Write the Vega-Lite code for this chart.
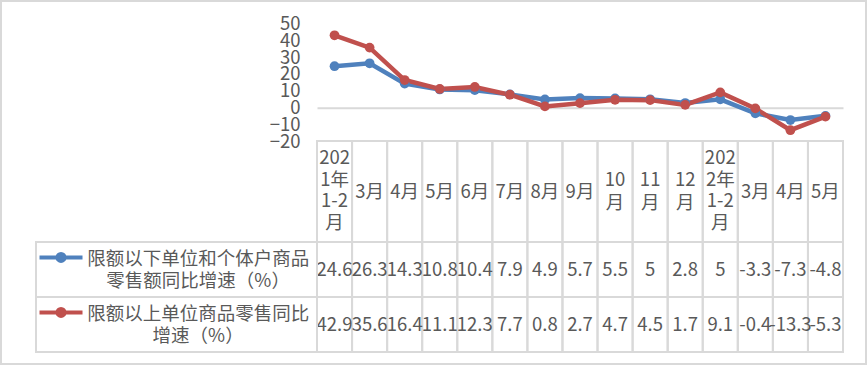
{
  "$schema": "https://vega.github.io/schema/vega-lite/v6.json",
  "width": 865,
  "height": 363,
  "autosize": "none",
  "padding": 1,
  "background": "#ffffff",
  "config": {
    "view": {"stroke": "#d9d9d9", "strokeWidth": 2},
    "font": "Noto Sans CJK SC",
    "text": {"font": "Noto Sans CJK SC", "fontSize": 18.5, "color": "#595959"},
    "axis": {"labelFont": "Noto Sans CJK SC"}
  },
  "data": {
    "values": [
      {"period": "2021-01", "label": "2021年1-2月", "series": "限额以下单位和个体户商品零售额同比增速（%）", "value": 24.6},
      {"period": "2021-03", "label": "3月", "series": "限额以下单位和个体户商品零售额同比增速（%）", "value": 26.3},
      {"period": "2021-04", "label": "4月", "series": "限额以下单位和个体户商品零售额同比增速（%）", "value": 14.3},
      {"period": "2021-05", "label": "5月", "series": "限额以下单位和个体户商品零售额同比增速（%）", "value": 10.8},
      {"period": "2021-06", "label": "6月", "series": "限额以下单位和个体户商品零售额同比增速（%）", "value": 10.4},
      {"period": "2021-07", "label": "7月", "series": "限额以下单位和个体户商品零售额同比增速（%）", "value": 7.9},
      {"period": "2021-08", "label": "8月", "series": "限额以下单位和个体户商品零售额同比增速（%）", "value": 4.9},
      {"period": "2021-09", "label": "9月", "series": "限额以下单位和个体户商品零售额同比增速（%）", "value": 5.7},
      {"period": "2021-10", "label": "10月", "series": "限额以下单位和个体户商品零售额同比增速（%）", "value": 5.5},
      {"period": "2021-11", "label": "11月", "series": "限额以下单位和个体户商品零售额同比增速（%）", "value": 5},
      {"period": "2021-12", "label": "12月", "series": "限额以下单位和个体户商品零售额同比增速（%）", "value": 2.8},
      {"period": "2022-01", "label": "2022年1-2月", "series": "限额以下单位和个体户商品零售额同比增速（%）", "value": 5},
      {"period": "2022-03", "label": "3月", "series": "限额以下单位和个体户商品零售额同比增速（%）", "value": -3.3},
      {"period": "2022-04", "label": "4月", "series": "限额以下单位和个体户商品零售额同比增速（%）", "value": -7.3},
      {"period": "2022-05", "label": "5月", "series": "限额以下单位和个体户商品零售额同比增速（%）", "value": -4.8},
      {"period": "2021-01", "label": "2021年1-2月", "series": "限额以上单位商品零售同比增速（%）", "value": 42.9},
      {"period": "2021-03", "label": "3月", "series": "限额以上单位商品零售同比增速（%）", "value": 35.6},
      {"period": "2021-04", "label": "4月", "series": "限额以上单位商品零售同比增速（%）", "value": 16.4},
      {"period": "2021-05", "label": "5月", "series": "限额以上单位商品零售同比增速（%）", "value": 11.1},
      {"period": "2021-06", "label": "6月", "series": "限额以上单位商品零售同比增速（%）", "value": 12.3},
      {"period": "2021-07", "label": "7月", "series": "限额以上单位商品零售同比增速（%）", "value": 7.7},
      {"period": "2021-08", "label": "8月", "series": "限额以上单位商品零售同比增速（%）", "value": 0.8},
      {"period": "2021-09", "label": "9月", "series": "限额以上单位商品零售同比增速（%）", "value": 2.7},
      {"period": "2021-10", "label": "10月", "series": "限额以上单位商品零售同比增速（%）", "value": 4.7},
      {"period": "2021-11", "label": "11月", "series": "限额以上单位商品零售同比增速（%）", "value": 4.5},
      {"period": "2021-12", "label": "12月", "series": "限额以上单位商品零售同比增速（%）", "value": 1.7},
      {"period": "2022-01", "label": "2022年1-2月", "series": "限额以上单位商品零售同比增速（%）", "value": 9.1},
      {"period": "2022-03", "label": "3月", "series": "限额以上单位商品零售同比增速（%）", "value": -0.4},
      {"period": "2022-04", "label": "4月", "series": "限额以上单位商品零售同比增速（%）", "value": -13.3},
      {"period": "2022-05", "label": "5月", "series": "限额以上单位商品零售同比增速（%）", "value": -5.3}
    ]
  },
  "layer": [
    {
      "encoding": {
        "x": {
          "field": "period", "type": "ordinal", "sort": null,
          "scale": {"type": "point", "range": [316, 842], "padding": 0.5},
          "axis": {"orient": "bottom", "offset": -256.3, "labels": false, "ticks": false, "grid": false, "title": null, "domainColor": "#d9d9d9", "domainWidth": 2}
        },
        "y": {
          "field": "value", "type": "quantitative",
          "scale": {"domain": [-20, 50], "range": [140.5, 22.3], "nice": false, "zero": false},
          "axis": {"orient": "left", "offset": -299, "values": [-20, -10, 0, 10, 20, 30, 40, 50], "domain": false, "ticks": false, "grid": false, "title": null, "labelPadding": 0, "labelFontSize": 18.5, "labelColor": "#595959", "labelOverlap": false, "labelBaseline": "middle", "labelAlign": "right"}
        },
        "color": {
          "field": "series", "type": "nominal",
          "scale": {"domain": ["限额以下单位和个体户商品零售额同比增速（%）", "限额以上单位商品零售同比增速（%）"], "range": ["#4F81BD", "#C0504D"]},
          "legend": null
        }
      },
      "layer": [
        {"mark": {"type": "line", "strokeWidth": 4.5}},
        {"mark": {"type": "point", "filled": true, "size": 95, "opacity": 1}}
      ]
    },
    {
      "transform": [
        {"filter": "datum.series == '限额以下单位和个体户商品零售额同比增速（%）'"},
        {"calculate": "length(datum.label) > 4 ? slice(datum.label,0,3)+'\\n'+slice(datum.label,3,5)+'\\n'+slice(datum.label,5,8)+'\\n'+slice(datum.label,8) : length(datum.label) == 3 ? slice(datum.label,0,2)+'\\n'+slice(datum.label,2) : datum.label", "as": "hdr"}
      ],
      "encoding": {
        "x": {"field": "period", "type": "ordinal", "sort": null, "scale": {"type": "band", "range": [316, 842], "paddingInner": 0, "paddingOuter": 0}, "axis": null},
        "y": {"field": "series", "type": "nominal", "scale": {"type": "band", "range": [140, 241], "paddingInner": 0, "paddingOuter": 0}, "axis": null}
      },
      "layer": [
        {"mark": {"type": "rect", "fill": "transparent", "stroke": "#d9d9d9", "strokeWidth": 2}},
        {
          "transform": [{"filter": "length(datum.label) > 4"}],
          "mark": {"type": "text", "lineBreak": "\n", "lineHeight": 21.7, "baseline": "middle", "align": "center", "fontSize": 18.5, "color": "#595959", "dy": -33.5},
          "encoding": {"text": {"field": "hdr", "type": "nominal"}}
        },
        {
          "transform": [{"filter": "length(datum.label) == 3"}],
          "mark": {"type": "text", "lineBreak": "\n", "lineHeight": 23, "baseline": "middle", "align": "center", "fontSize": 18.5, "color": "#595959", "dy": -11.5},
          "encoding": {"text": {"field": "hdr", "type": "nominal"}}
        },
        {
          "transform": [{"filter": "length(datum.label) == 2"}],
          "mark": {"type": "text", "baseline": "middle", "align": "center", "fontSize": 18.5, "color": "#595959"},
          "encoding": {"text": {"field": "hdr", "type": "nominal"}}
        }
      ]
    },
    {
      "encoding": {
        "x": {"field": "period", "type": "ordinal", "sort": null, "scale": {"type": "band", "range": [316, 842], "paddingInner": 0, "paddingOuter": 0}, "axis": null},
        "y": {"field": "series", "type": "nominal", "scale": {"type": "band", "domain": ["限额以下单位和个体户商品零售额同比增速（%）", "限额以上单位商品零售同比增速（%）"], "range": [241, 351], "paddingInner": 0, "paddingOuter": 0}, "axis": null}
      },
      "layer": [
        {"mark": {"type": "rect", "fill": "transparent", "stroke": "#d9d9d9", "strokeWidth": 2}},
        {"mark": {"type": "text", "baseline": "middle", "align": "center", "fontSize": 18.5, "color": "#595959"}, "encoding": {"text": {"field": "value", "type": "nominal"}}}
      ]
    },
    {
      "transform": [
        {"filter": "datum.period == '2022-05'"},
        {"calculate": "slice(datum.series,0,12)+'\\n'+slice(datum.series,12)", "as": "leg"}
      ],
      "layer": [
        {
          "mark": {"type": "rect", "fill": "transparent", "stroke": "#d9d9d9", "strokeWidth": 2},
          "encoding": {
            "x": {"datum": "L", "type": "nominal", "scale": {"type": "band", "domain": ["L"], "range": [35, 316], "paddingInner": 0, "paddingOuter": 0}, "axis": null},
            "y": {"field": "series", "type": "nominal", "scale": {"type": "band", "domain": ["限额以下单位和个体户商品零售额同比增速（%）", "限额以上单位商品零售同比增速（%）"], "range": [241, 351], "paddingInner": 0, "paddingOuter": 0}, "axis": null}
          }
        },
        {
          "mark": {"type": "point", "shape": "M-1,0H1M-0.163,0A0.163,0.163,0,1,1,0.163,0A0.163,0.163,0,1,1,-0.163,0", "size": 1849, "filled": true, "strokeWidth": 4, "opacity": 1},
          "encoding": {
            "x": {"datum": "L", "type": "nominal", "bandPosition": 0.089, "scale": {"type": "band", "domain": ["L"], "range": [35, 316], "paddingInner": 0, "paddingOuter": 0}, "axis": null},
            "y": {"field": "series", "type": "nominal", "bandPosition": 0.28, "scale": {"type": "band", "domain": ["限额以下单位和个体户商品零售额同比增速（%）", "限额以上单位商品零售同比增速（%）"], "range": [241, 351], "paddingInner": 0, "paddingOuter": 0}, "axis": null},
            "color": {"field": "series", "type": "nominal", "scale": {"domain": ["限额以下单位和个体户商品零售额同比增速（%）", "限额以上单位商品零售同比增速（%）"], "range": ["#4F81BD", "#C0504D"]}, "legend": null},
            "stroke": {"field": "series", "type": "nominal", "scale": {"domain": ["限额以下单位和个体户商品零售额同比增速（%）", "限额以上单位商品零售同比增速（%）"], "range": ["#4F81BD", "#C0504D"]}, "legend": null}
          }
        },
        {
          "mark": {"type": "text", "lineBreak": "\n", "lineHeight": 22, "baseline": "middle", "align": "center", "fontSize": 18.5, "color": "#595959", "dy": -11},
          "encoding": {
            "x": {"datum": "L", "type": "nominal", "bandPosition": 0.577, "scale": {"type": "band", "domain": ["L"], "range": [35, 316], "paddingInner": 0, "paddingOuter": 0}, "axis": null},
            "y": {"field": "series", "type": "nominal", "scale": {"type": "band", "domain": ["限额以下单位和个体户商品零售额同比增速（%）", "限额以上单位商品零售同比增速（%）"], "range": [241, 351], "paddingInner": 0, "paddingOuter": 0}, "axis": null},
            "text": {"field": "leg", "type": "nominal"}
          }
        }
      ]
    }
  ],
  "resolve": {"scale": {"x": "independent", "y": "independent"}}
}
